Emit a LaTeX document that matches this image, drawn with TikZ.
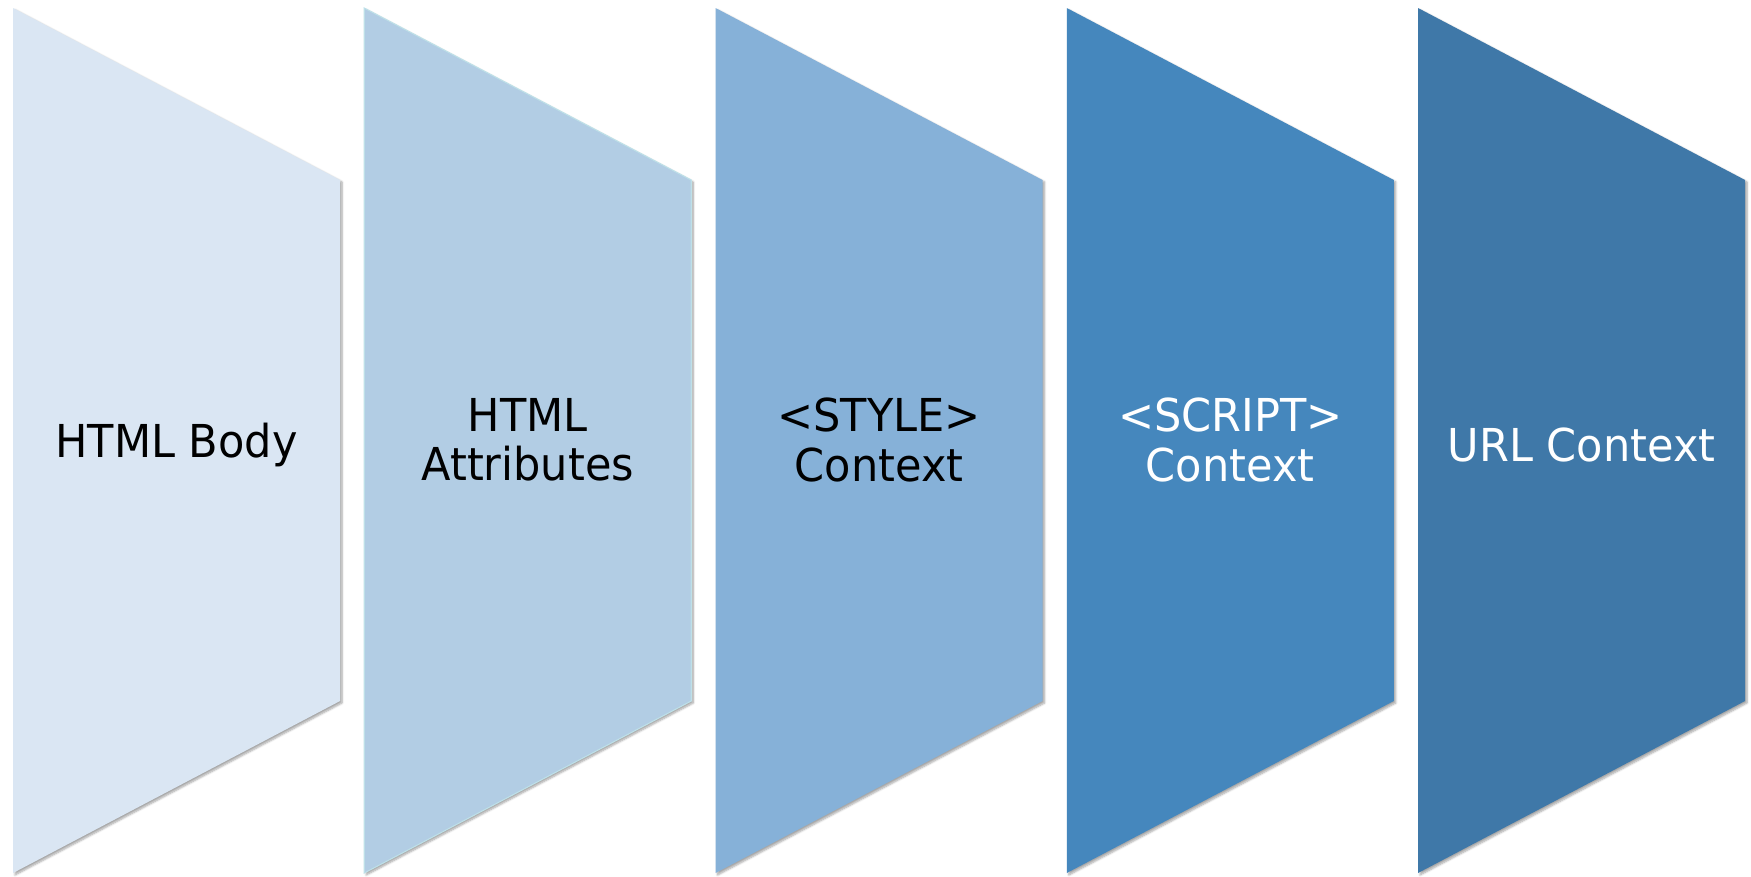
\documentclass[tikz,border=0pt]{standalone}
\usepackage{fontspec}
\setmainfont[FakeStretch=0.95]{DejaVu Sans}
\usetikzlibrary{shadows.blur}
\definecolor{cA}{HTML}{DAE6F3}
\definecolor{cB}{HTML}{B2CDE4}
\definecolor{cBline}{HTML}{BEE0E8}
\definecolor{cC}{HTML}{86B1D8}
\definecolor{cD}{HTML}{4587BD}
\definecolor{cE}{HTML}{3F78A8}
\tikzset{
  panel/.style={blur shadow={shadow xshift=1.5pt, shadow yshift=-1.5pt, shadow blur steps=6, shadow opacity=35, shadow blur radius=1.5pt}},
  lbl/.style={font=\fontsize{34pt}{37pt}\selectfont, align=center, inner sep=0pt}
}
\begin{document}
\begin{tikzpicture}[x=0.75pt,y=-0.75pt]
\useasboundingbox (0,0) rectangle (1751,876);
\foreach \i/\col in {0/cA,1/cB,2/cC,3/cD,4/cE}{
  \pgfmathsetmacro{\xl}{13+351.25*\i}
  \pgfmathsetmacro{\xr}{\xl+327}
  \ifnum\i=1
    \fill[\col, panel, draw=cBline, line width=0.8pt] (\xl,8) -- (\xr,180) -- (\xr,701) -- (\xl,873) -- cycle;
  \else
    \fill[\col, panel] (\xl,8) -- (\xr,180) -- (\xr,701) -- (\xl,873) -- cycle;
  \fi
}
\node[lbl, text=black] (t1) at (176.5,445) {HTML Body};
\node[lbl, text=black] (t2) at (527.75,440) {HTML\\Attributes};
\node[lbl, text=black] (t3) at (879,440) {<STYLE>\\Context};
\node[lbl, text=white] (t4) at (1230.25,440) {<SCRIPT>\\Context};
\node[lbl, text=white] (t5) at (1581.5,445) {URL Context};
\end{tikzpicture}
\end{document}
